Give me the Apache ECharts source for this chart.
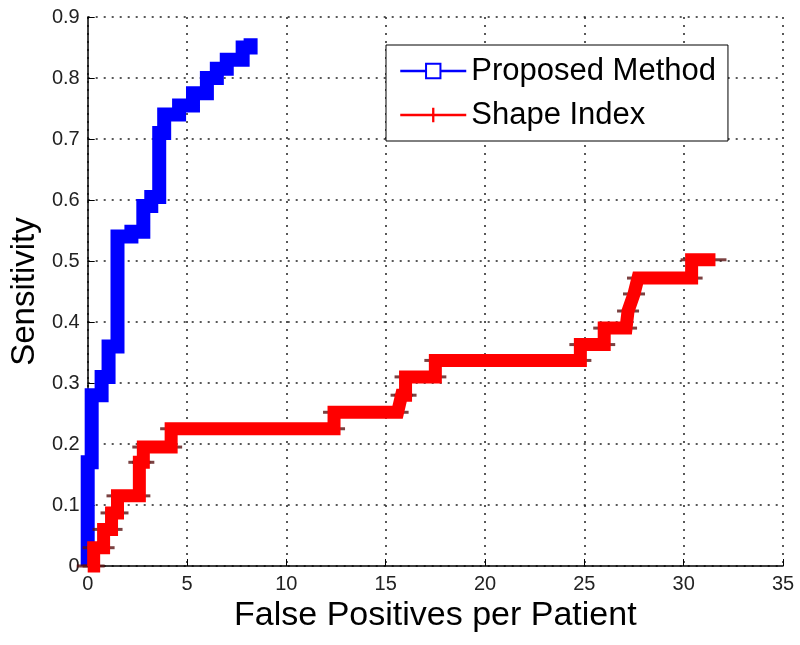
<!DOCTYPE html>
<html>
<head>
<meta charset="utf-8">
<script src="https://cdn.jsdelivr.net/npm/echarts@6/dist/echarts.min.js"></script>
<style>
  html, body { margin: 0; padding: 0; background: #fff; }
  #chart { width: 800px; height: 645px; }
</style>
</head>
<body>
<div id="chart"></div>
<script>
// FROC curves (corner points of the step curves)
const proposedFP   = [0, 0,    0.2,  0.2,  0.7,  0.7,  1.05, 1.05, 1.5,  1.5,  2.2,  2.2,   2.8,   2.8,  3.2,  3.2,   3.6,   3.6,  3.85, 3.85, 4.6,  4.6,   5.3,   5.3,   6.0,   6.0, 6.5, 6.5,   7.0,   7.0,  7.8,  7.8,  8.2,  8.2];
const proposedSens = [0, 0.17, 0.17, 0.28, 0.28, 0.31, 0.31, 0.36, 0.36, 0.54, 0.54, 0.548, 0.548, 0.59, 0.59, 0.605, 0.605, 0.71, 0.71, 0.74, 0.74, 0.755, 0.755, 0.775, 0.775, 0.8, 0.8, 0.815, 0.815, 0.83, 0.83, 0.85, 0.85, 0.865];

const shapeFP   = [0, 0.3, 0.3,  0.8,  0.8,  1.2,  1.2,   1.5,   1.5,   2.6,   2.6,  2.8,  2.8,   4.2,   4.2,   12.4,  12.4,  15.6,  15.8, 16.0, 16.0, 17.5, 17.5,  24.8,  24.8,  26.0,  26.0, 27.1, 27.2,  27.5,  27.7,  30.4,  30.4,  31.6];
const shapeSens = [0, 0,   0.03, 0.03, 0.06, 0.06, 0.087, 0.087, 0.115, 0.115, 0.17, 0.17, 0.195, 0.195, 0.225, 0.225, 0.252, 0.252, 0.28, 0.28, 0.31, 0.31, 0.337, 0.337, 0.363, 0.363, 0.39, 0.39, 0.418, 0.446, 0.472, 0.472, 0.502, 0.502];

const xTicks = { min: 0, max: 35, step: 5 };
const yTicks = { min: 0, max: 0.9, step: 0.1 };

const pairs = (xs, ys) => xs.map((x, i) => [x, ys[i]]);

const chart = echarts.init(document.getElementById('chart'));
const font = "'Liberation Sans', Arial, sans-serif";
const gridDots = { color: '#222', width: 1.5, type: [2, 6] };

chart.setOption({
  backgroundColor: '#fff',
  animation: false,
  textStyle: { fontFamily: font },
  grid: { left: 86, right: 17, top: 17, bottom: 79 },
  xAxis: {
    type: 'value',
    min: xTicks.min, max: xTicks.max, interval: xTicks.step,
    name: 'False Positives per Patient',
    nameLocation: 'middle',
    nameGap: 31,
    nameTextStyle: { fontSize: 34, color: '#000', fontFamily: font },
    axisLine: { lineStyle: { color: '#000', width: 1.5 } },
    axisTick: { inside: true, length: 7, lineStyle: { color: '#000' } },
    axisLabel: { fontSize: 20, color: '#222', margin: 8, fontFamily: font },
    splitLine: { show: true, lineStyle: gridDots }
  },
  yAxis: {
    type: 'value',
    min: yTicks.min, max: yTicks.max, interval: yTicks.step,
    name: 'Sensitivity',
    nameLocation: 'middle',
    nameRotate: 90,
    nameGap: 43,
    nameTextStyle: { fontSize: 33, color: '#000', fontFamily: font },
    axisLine: { show: true, lineStyle: { color: '#000', width: 1.5 } },
    axisTick: { show: true, inside: true, length: 7, lineStyle: { color: '#000' } },
    axisLabel: { fontSize: 20, color: '#222', margin: 8, fontFamily: font },
    splitLine: { show: true, lineStyle: gridDots }
  },
  legend: {
    data: ['Proposed Method', 'Shape Index'],
    orient: 'vertical',
    left: 386,
    top: 45,
    padding: [8, 12, 8, 13],
    itemGap: 8,
    itemWidth: 66,
    itemHeight: 18,
    backgroundColor: '#fff',
    borderColor: '#000',
    borderWidth: 1,
    borderRadius: 0,
    lineStyle: { width: 2.5 },
    textStyle: { fontSize: 31, color: '#000', lineHeight: 36, fontFamily: font }
  },
  series: [
    {
      name: 'Proposed Method',
      type: 'line',
      data: pairs(proposedFP, proposedSens),
      symbol: 'emptyRect',
      showSymbol: false,
      clip: false,
      z: 2,
      color: '#0000ff',
      lineStyle: { color: '#0000ff', width: 14, cap: 'butt', join: 'miter' },
      emphasis: { disabled: true }
    },
    {
      name: 'Shape Index markers',
      type: 'scatter',
      data: pairs(shapeFP, shapeSens),
      symbol: 'rect',
      symbolSize: [22, 3],
      clip: false,
      z: 3,
      itemStyle: { color: '#5a1212' },
      emphasis: { disabled: true }
    },
    {
      name: 'Shape Index',
      type: 'line',
      data: pairs(shapeFP, shapeSens),
      symbol: 'path://M0,5L10,5Z M4.2,0H5.8V10H4.2Z',
      showSymbol: false,
      clip: false,
      z: 4,
      color: '#ff0000',
      lineStyle: { color: '#ff0000', width: 13, cap: 'butt', join: 'miter' },
      emphasis: { disabled: true }
    }
  ]
});
</script>
</body>
</html>
